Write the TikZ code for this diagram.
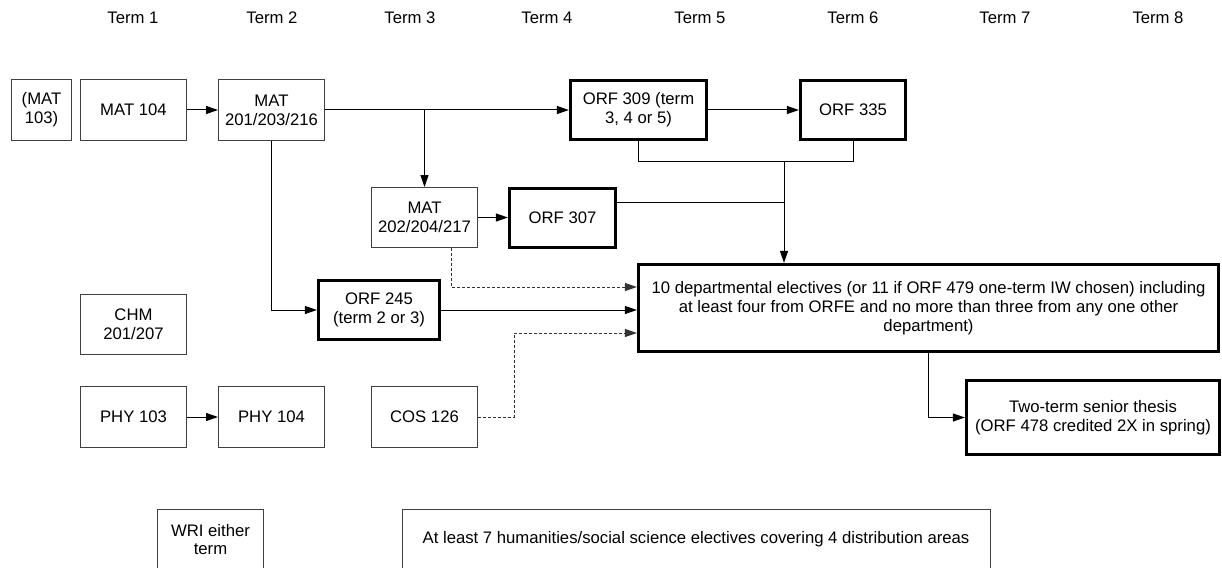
\documentclass[tikz,border=0pt]{standalone}
\usepackage{fontspec}
\setmainfont{Liberation Sans}
\usetikzlibrary{arrows.meta}
\begin{document}
\begin{tikzpicture}[x=1pt,y=-1pt,
  font=\fontsize{16.7}{18.8}\selectfont,
  box/.style={draw=black!75,line width=1pt,inner sep=1pt,align=center},
  tbox/.style={draw=black,line width=3.2pt,inner sep=1pt,align=center},
  conn/.style={line width=1pt},
  arr/.style={conn,-{Triangle[length=12pt,width=8pt]}},
  dasharr/.style={arr,dash pattern=on 3pt off 2pt,black!80},
  term/.style={inner sep=0pt}]
\useasboundingbox (0,0) rectangle (1222,567);
\clip (0,0) rectangle (1222,567);
% term labels
\node[term] (t1) at (133,18) {Term 1};
\node[term] (t2) at (272,18) {Term 2};
\node[term] (t3) at (410,18) {Term 3};
\node[term] (t4) at (547,18) {Term 4};
\node[term] (t5) at (700,18) {Term 5};
\node[term] (t6) at (853,18) {Term 6};
\node[term] (t7) at (1005,18) {Term 7};
\node[term] (t8) at (1158,18) {Term 8};
% boxes
\node[box,minimum width=60,minimum height=61] (mat103) at (41.5,110) {(MAT\\103)};
\node[box,minimum width=106,minimum height=61] (mat104) at (133.5,110) {MAT 104};
\node[box,minimum width=106,minimum height=61] (mat201) at (271.5,110) {MAT\\201/203/216};
\node[tbox,minimum width=136,minimum height=59] (orf309) at (638.5,110) {ORF 309 (term\\3, 4 or 5)};
\node[tbox,minimum width=105,minimum height=59] (orf335) at (853,110) {ORF 335};
\node[box,minimum width=106,minimum height=60] (mat202) at (424.5,217.5) {MAT\\202/204/217};
\node[tbox,minimum width=106,minimum height=59] (orf307) at (562.5,218) {ORF 307};
\node[tbox,minimum width=121,minimum height=59] (orf245) at (379,310) {ORF 245\\(term 2 or 3)};
\node[box,minimum width=106,minimum height=60] (chm) at (133.5,324.5) {CHM\\201/207};
\node[box,minimum width=106,minimum height=61] (phy103) at (133.5,417) {PHY 103};
\node[box,minimum width=106,minimum height=61] (phy104) at (271.5,417) {PHY 104};
\node[box,minimum width=106,minimum height=61] (cos) at (424.5,417) {COS 126};
\node[tbox,minimum width=580,minimum height=87] (elect) at (928.5,308) {10 departmental electives (or 11 if ORF 479 one-term IW chosen) including\\at least four from ORFE and no more than three from any one other\\department)};
\node[tbox,minimum width=253,minimum height=74] (thesis) at (1093,417.5) {Two-term senior thesis\\(ORF 478 credited 2X in spring)};
\node[box,minimum width=106,minimum height=61] (wri) at (210.5,539.5) {WRI either\\term};
\node[box,minimum width=588,minimum height=61] (hum) at (696,539.5) {At least 7 humanities/social science electives covering 4 distribution areas};
% connectors
\draw[arr] (mat104) -- (mat201);
\draw[arr] (mat201.east) -- (orf309.west);
\draw[arr] (mat202.north |- mat201.east) -- (mat202.north);
\draw[arr] (mat201.south) |- (orf245.west);
\draw[arr] (orf309) -- (orf335);
\coordinate (j) at (784,161);
\coordinate (j2) at (784,202);
\draw[conn] (orf309.south) -- (orf309.south |- j) -| (orf335.south);
\draw[arr] (j) -- (j |- elect.north);
\draw[conn] (j2 -| orf307.east) -- (j2);
\draw[arr] (mat202.east) -- (mat202.east -| orf307.west);
\coordinate (d1) at (451,287);
\draw[dasharr] (d1 |- mat202.south) -- (d1) -- (d1 -| elect.west);
\draw[arr] (orf245.east) -- (orf245.east -| elect.west);
\coordinate (c1) at (514,333);
\draw[dasharr] (cos.east) -| (c1) -- (c1 -| elect.west);
\draw[arr] (elect.south) |- (thesis.west);
\draw[arr] (phy103) -- (phy104);
\end{tikzpicture}
\end{document}
